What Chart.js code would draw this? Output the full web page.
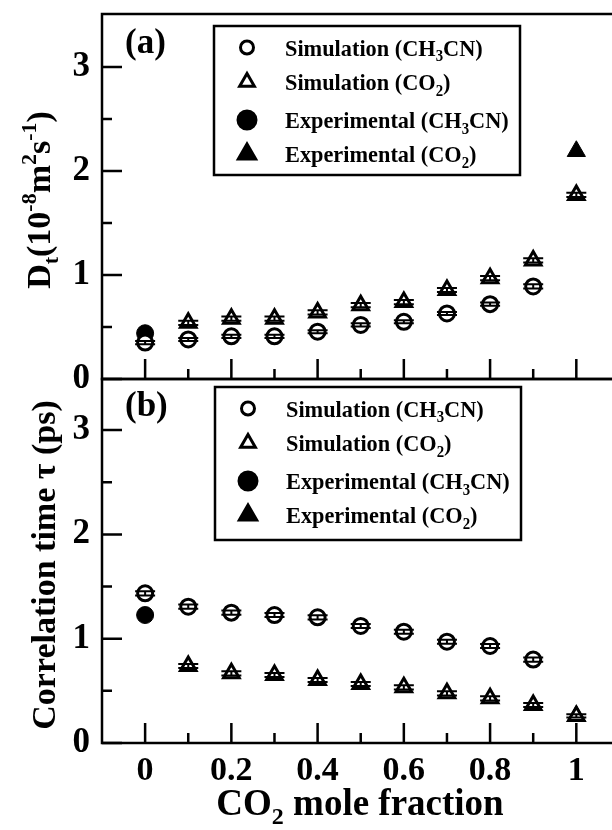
<!DOCTYPE html>
<html>
<head>
<meta charset="utf-8">
<script src="https://cdn.jsdelivr.net/npm/chart.js@4.4.1/dist/chart.umd.min.js"></script>
<style>
  html, body { margin: 0; padding: 0; background: #fff; width: 612px; height: 830px; overflow: hidden; }
  canvas { position: absolute; left: 0; }
  #panelA { top: 0; }
  #panelB { top: 360px; }
</style>
</head>
<body>
<canvas id="panelA" width="660" height="395"></canvas>
<canvas id="panelB" width="660" height="470"></canvas>
<script>
const FONT = '"Liberation Serif", "Times New Roman", serif';

// CO2 mole fraction
const xFrac = [0, 0.1, 0.2, 0.3, 0.4, 0.5, 0.6, 0.7, 0.8, 0.9, 1.0];

// (a) translational diffusion coefficient D_t, 10^-8 m^2 s^-1
const simCH3CN_D = [0.35, 0.38, 0.41, 0.41, 0.455, 0.52, 0.55, 0.63, 0.72, 0.89, null];
const errCH3CN_D = [0.015, 0.015, 0.015, 0.015, 0.015, 0.015, 0.015, 0.015, 0.015, 0.02, null];
const simCO2_D   = [null, 0.54, 0.58, 0.58, 0.64, 0.71, 0.74, 0.856, 0.97, 1.14, 1.77];
const errCO2_D   = [null, 0.02, 0.02, 0.02, 0.02, 0.02, 0.02, 0.02, 0.02, 0.02, 0.02];
const expCH3CN_D = [0.44];   // at x = 0
const expCO2_D   = [2.19];   // at x = 1

// (b) correlation time tau, ps
const simCH3CN_tau = [1.435, 1.307, 1.25, 1.227, 1.205, 1.122, 1.067, 0.971, 0.93, 0.80, null];
const errCH3CN_tau = [0.02, 0.02, 0.02, 0.02, 0.02, 0.02, 0.02, 0.02, 0.02, 0.02, null];
const simCO2_tau   = [null, 0.738, 0.668, 0.652, 0.604, 0.566, 0.534, 0.476, 0.428, 0.364, 0.26];
const errCO2_tau   = [null, 0.02, 0.02, 0.02, 0.02, 0.02, 0.02, 0.02, 0.02, 0.02, 0.015];
const expCH3CN_tau = [1.227];
const expCO2_tau   = [0.259];

const expX_CH3CN = [0];
const expX_CO2 = [1];

// axes
const xMajor = [0, 0.2, 0.4, 0.6, 0.8, 1.0];
const xTickLabels = ['0', '0.2', '0.4', '0.6', '0.8', '1'];
const xMinor = [0.1, 0.3, 0.5, 0.7, 0.9];
const yMajor = [0, 1, 2, 3];
const yTickLabels = ['0', '1', '2', '3'];
const yMinor = [0.5, 1.5, 2.5];

// rich text pieces: [text, '' | 'sub' | 'sup']
const legendLabels = [
  [['Simulation (CH', ''], ['3', 'sub'], ['CN)', '']],
  [['Simulation (CO', ''], ['2', 'sub'], [')', '']],
  [['Experimental (CH', ''], ['3', 'sub'], ['CN)', '']],
  [['Experimental (CO', ''], ['2', 'sub'], [')', '']]
];
const titleD = [['D', ''], ['t', 'sub'], ['(10', ''], ['-8', 'sup'], ['m', ''], ['2', 'sup'], ['s', ''], ['-1', 'sup'], [')', '']];
const titleTau = [['Correlation time \u03c4 (ps)', '']];
const titleX = [['CO', ''], ['2', 'sub'], [' mole fraction', '']];

function pts(xs, ys) {
  return ys.map((y, i) => ({ x: xs[i], y: y })).filter(p => p.y !== null);
}

// draws text with sub/superscripts; sx squeezes it horizontally
function drawRich(ctx, parts, x, y, size, align, sx) {
  sx = sx || 1;
  const small = Math.round(size * 0.66);
  let w = 0;
  parts.forEach(([t, m]) => {
    ctx.font = 'bold ' + (m ? small : size) + 'px ' + FONT;
    w += ctx.measureText(t).width;
  });
  ctx.save();
  ctx.translate(x, y);
  ctx.scale(sx, 1);
  let cx = align === 'center' ? -w / 2 : 0;
  ctx.textAlign = 'left';
  ctx.textBaseline = 'alphabetic';
  parts.forEach(([t, m]) => {
    ctx.font = 'bold ' + (m ? small : size) + 'px ' + FONT;
    const dy = m === 'sub' ? size * 0.24 : (m === 'sup' ? -size * 0.42 : 0);
    ctx.fillText(t, cx, dy);
    cx += ctx.measureText(t).width;
  });
  ctx.restore();
}

const markers = [
  { style: 'circle', r: 7.5, fill: '#fff', legendR: 6.5 },
  { style: 'triangle', r: 9, fill: '#fff', legendR: 8.5 },
  { style: 'circle', r: 8.5, fill: '#000', legendR: 9 },
  { style: 'triangle', r: 10.5, fill: '#000', legendR: 10 }
];

// frame, inward ticks, error bars, legend box and panel texts
const panelDecor = {
  id: 'panelDecor',
  afterDatasetsDraw(chart, args, opts) {
    const ctx = chart.ctx;
    const a = chart.chartArea;
    const xs = chart.scales.x, ys = chart.scales.y;
    ctx.save();
    ctx.strokeStyle = '#000';
    ctx.fillStyle = '#000';

    // error bars
    ctx.lineWidth = 2;
    opts.errors.forEach(([vals, errs]) => {
      vals.forEach((v, i) => {
        if (v === null) return;
        const px = xs.getPixelForValue(xFrac[i]);
        const lo = ys.getPixelForValue(v - errs[i]);
        const hi = ys.getPixelForValue(v + errs[i]);
        ctx.beginPath();
        ctx.moveTo(px, lo); ctx.lineTo(px, hi);
        ctx.moveTo(px - 10, lo); ctx.lineTo(px + 10, lo);
        ctx.moveTo(px - 10, hi); ctx.lineTo(px + 10, hi);
        ctx.stroke();
      });
    });

    // frame
    ctx.lineWidth = 2.5;
    ctx.strokeRect(a.left, a.top, a.right - a.left, a.bottom - a.top);

    // ticks pointing into the plot
    ctx.beginPath();
    xMajor.forEach(v => { const p = xs.getPixelForValue(v); ctx.moveTo(p, a.bottom); ctx.lineTo(p, a.bottom - 20); });
    xMinor.forEach(v => { const p = xs.getPixelForValue(v); ctx.moveTo(p, a.bottom); ctx.lineTo(p, a.bottom - 10); });
    yMajor.forEach(v => { const p = ys.getPixelForValue(v); ctx.moveTo(a.left, p); ctx.lineTo(a.left + 20, p); });
    yMinor.forEach(v => { const p = ys.getPixelForValue(v); ctx.moveTo(a.left, p); ctx.lineTo(a.left + 10, p); });
    ctx.stroke();

    // legend
    const bx = a.left + opts.box[0], by = a.top + opts.box[1];
    ctx.lineWidth = 2.5;
    ctx.strokeRect(bx, by, opts.box[2], opts.box[3]);
    const rows = [21.5, 56, 94, 128];
    legendLabels.forEach((parts, i) => {
      const m = markers[i];
      const cy = by + rows[i];
      ctx.fillStyle = m.fill;
      ctx.strokeStyle = '#000';
      ctx.lineWidth = 3;
      Chart.helpers.drawPoint(ctx, { pointStyle: m.style, radius: m.legendR, borderWidth: 3, rotation: 0 }, bx + 33, cy);
      ctx.fillStyle = '#000';
      drawRich(ctx, parts, bx + 71, cy + 8, 24, 'left', 0.93);
    });

    // panel letter
    ctx.font = 'bold 35px ' + FONT;
    ctx.textAlign = 'left';
    ctx.textBaseline = 'alphabetic';
    ctx.fillText(opts.letter, a.left + 23, a.top + opts.letterY);

    // y title, rotated
    ctx.save();
    ctx.translate(opts.yTitle[0], opts.yTitle[1]);
    ctx.rotate(-Math.PI / 2);
    drawRich(ctx, opts.yTitle[2], 0, 0, opts.yTitle[3], 'center');
    ctx.restore();

    if (opts.xTitle) drawRich(ctx, titleX, opts.xTitle[0], opts.xTitle[1], 37, 'center');
    ctx.restore();
  }
};

function makeDatasets(simC, simT, expC, expT) {
  return [
    { data: pts(xFrac, simC), pointStyle: 'circle', pointRadius: markers[0].r, pointBackgroundColor: '#fff', pointBorderColor: '#000', pointBorderWidth: 3 },
    { data: pts(xFrac, simT), pointStyle: 'triangle', pointRadius: markers[1].r, pointBackgroundColor: '#fff', pointBorderColor: '#000', pointBorderWidth: 3 },
    { data: pts(expX_CH3CN, expC), pointStyle: 'circle', pointRadius: markers[2].r, pointBackgroundColor: '#000', pointBorderColor: '#000', pointBorderWidth: 1 },
    { data: pts(expX_CO2, expT), pointStyle: 'triangle', pointRadius: markers[3].r, pointBackgroundColor: '#000', pointBorderColor: '#000', pointBorderWidth: 1 }
  ];
}

function makeScales(yMax, showX, xHeight) {
  return {
    x: {
      type: 'linear', min: -0.1, max: 1.15,
      grid: { display: false, drawTicks: false }, border: { display: false },
      afterBuildTicks: s => { s.ticks = xMajor.map(v => ({ value: v })); },
      ticks: {
        display: showX, autoSkip: false, maxRotation: 0, padding: 8, color: '#000',
        font: { family: FONT, size: 34, weight: 'bold' },
        callback: (v, i) => xTickLabels[i]
      },
      afterFit: s => { s.height = xHeight; s.paddingLeft = 0; s.paddingRight = 0; }
    },
    y: {
      min: 0, max: yMax,
      grid: { display: false, drawTicks: false }, border: { display: false },
      afterBuildTicks: s => { s.ticks = yMajor.map(v => ({ value: v })); },
      ticks: {
        padding: 12, color: '#000',
        font: { family: FONT, size: 35, weight: 'bold' },
        callback: (v, i) => yTickLabels[i]
      },
      afterFit: s => { s.width = 102; s.paddingTop = 0; s.paddingBottom = 0; }
    }
  };
}

const chartA = new Chart(document.getElementById('panelA'), {
  type: 'scatter',
  data: { datasets: makeDatasets(simCH3CN_D, simCO2_D, expCH3CN_D, expCO2_D) },
  options: {
    responsive: false, animation: false, events: [],
    layout: { padding: { top: 14, right: 19, bottom: 0, left: 0 } },
    scales: makeScales(3.51, false, 16),
    plugins: {
      legend: { display: false }, tooltip: { enabled: false },
      panelDecor: {
        errors: [[simCH3CN_D, errCH3CN_D], [simCO2_D, errCO2_D]],
        box: [112, 12, 306, 149],
        letter: '(a)', letterY: 39,
        yTitle: [50, 200, titleD, 34]
      }
    }
  },
  plugins: [panelDecor]
});

const chartB = new Chart(document.getElementById('panelB'), {
  type: 'scatter',
  data: { datasets: makeDatasets(simCH3CN_tau, simCO2_tau, expCH3CN_tau, expCO2_tau) },
  options: {
    responsive: false, animation: false, events: [],
    layout: { padding: { top: 19, right: 19, bottom: 0, left: 0 } },
    scales: makeScales(3.49, true, 87),
    plugins: {
      legend: { display: false }, tooltip: { enabled: false },
      panelDecor: {
        errors: [[simCH3CN_tau, errCH3CN_tau], [simCO2_tau, errCO2_tau]],
        box: [113, 8, 306, 153],
        letter: '(b)', letterY: 37,
        yTitle: [55, 205, titleTau, 34],
        xTitle: [360, 455]
      }
    }
  },
  plugins: [panelDecor]
});
</script>
</body>
</html>
